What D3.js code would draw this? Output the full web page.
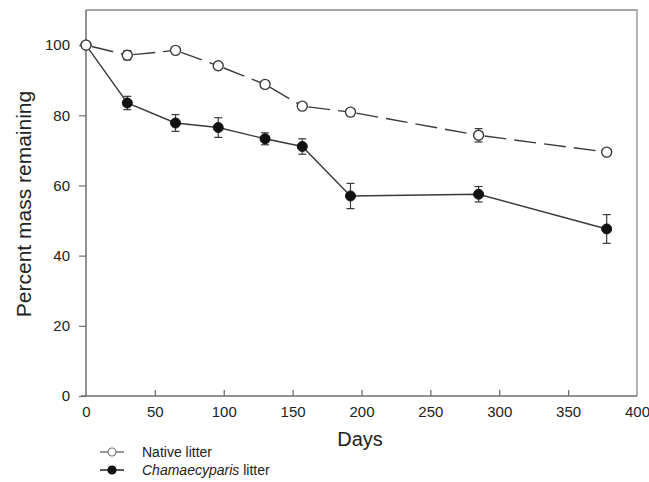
<!DOCTYPE html>
<html>
<head>
<meta charset="utf-8">
<script src="https://cdn.jsdelivr.net/npm/d3@7"></script>
<style>
  body { margin: 0; background: #fff; }
  svg { display: block; font-family: "Liberation Sans", Arial, sans-serif; }
</style>
</head>
<body>
<svg id="chart" width="649" height="482"></svg>
<script>
// data
const days = [0, 30, 65, 96, 130, 157, 192, 285, 378];
const nativeMass = [100, 97.1, 98.5, 94.1, 88.8, 82.6, 80.9, 74.3, 69.5];
const nativeErr = [0, 1.3, 0.5, 0.8, 0.6, 0.5, 0.8, 1.9, 0.5];
const chamMass = [100, 83.5, 77.8, 76.5, 73.3, 71.1, 57.0, 57.5, 47.6];
const chamErr = [0, 1.9, 2.4, 2.8, 1.7, 2.2, 3.6, 2.2, 4.1];
const xTicks = [0, 50, 100, 150, 200, 250, 300, 350, 400];
const yTicks = [0, 20, 40, 60, 80, 100];

const lineColor = '#3a3a3a';
const axisColor = '#6e6e6e';

const svg = d3.select('#chart');
const x = d3.scaleLinear().domain([0, 400]).range([86, 637]);
const y = d3.scaleLinear().domain([0, 110]).range([396, 10]);

// frame (top / right)
svg.append('path')
    .attr('d', `M${x(0)},${y(110)} H${x(400)} V${y(0)}`)
    .attr('fill', 'none').attr('stroke', '#8a8a8a').attr('stroke-width', 1.3);

// x axis, ticks pointing inward
const xAxis = svg.append('g').attr('transform', `translate(0,${y(0)})`)
    .call(d3.axisBottom(x).tickValues(xTicks).tickSize(0).tickPadding(10));
xAxis.select('.domain').remove();
xAxis.append('line').attr('x1', 81).attr('x2', x(400))
    .attr('stroke', axisColor).attr('stroke-width', 1.5);
xAxis.selectAll('.tick').filter(d => d > 0 && d < 400).append('line')
    .attr('y2', -6).attr('stroke', axisColor).attr('stroke-width', 1.3);
xAxis.selectAll('.tick text').attr('font-size', 15).attr('fill', '#222')
    .attr('font-family', '"Liberation Sans", Arial, sans-serif');

// y axis, ticks pointing outward
const yAxis = svg.append('g').attr('transform', `translate(${x(0)},0)`)
    .call(d3.axisLeft(y).tickValues(yTicks).tickSize(7).tickPadding(9));
yAxis.select('.domain').remove();
yAxis.append('line').attr('y1', y(0)).attr('y2', y(110))
    .attr('stroke', axisColor).attr('stroke-width', 1.5);
yAxis.selectAll('.tick line').attr('stroke', axisColor).attr('stroke-width', 1.2);
yAxis.selectAll('.tick text').attr('font-size', 15).attr('fill', '#222')
    .attr('font-family', '"Liberation Sans", Arial, sans-serif');

// axis titles
svg.append('text').attr('x', 360).attr('y', 446)
    .attr('text-anchor', 'middle').attr('font-size', 20).attr('fill', '#222')
    .text('Days');
svg.append('text')
    .attr('transform', 'translate(31,204) rotate(-90)')
    .attr('text-anchor', 'middle').attr('font-size', 21).attr('fill', '#222')
    .text('Percent mass remaining');

const nativeData = days.map((d, i) => ({ d, v: nativeMass[i], e: nativeErr[i] }));
const chamData = days.map((d, i) => ({ d, v: chamMass[i], e: chamErr[i] }));

const line = d3.line().x(p => x(p.d)).y(p => y(p.v));

// native: dashed, pattern restarts at each point
const segs = d3.pairs(nativeData);
svg.append('g').selectAll('path').data(segs).join('path')
    .attr('d', line)
    .attr('fill', 'none').attr('stroke', lineColor).attr('stroke-width', 1.4)
    .attr('stroke-dasharray', '22,8')
    .attr('stroke-dashoffset', -6);

// chamaecyparis: solid
svg.append('path').datum(chamData)
    .attr('d', line)
    .attr('fill', 'none').attr('stroke', lineColor).attr('stroke-width', 1.4);

function errorBars(data) {
    const g = svg.append('g').selectAll('g').data(data.filter(p => p.e > 0)).join('g')
        .attr('stroke', lineColor).attr('stroke-width', 1.2);
    g.append('line').attr('x1', p => x(p.d)).attr('x2', p => x(p.d))
        .attr('y1', p => y(p.v - p.e)).attr('y2', p => y(p.v + p.e));
    g.append('line').attr('x1', p => x(p.d) - 4).attr('x2', p => x(p.d) + 4)
        .attr('y1', p => y(p.v + p.e)).attr('y2', p => y(p.v + p.e));
    g.append('line').attr('x1', p => x(p.d) - 4).attr('x2', p => x(p.d) + 4)
        .attr('y1', p => y(p.v - p.e)).attr('y2', p => y(p.v - p.e));
}
errorBars(chamData);
errorBars(nativeData);

svg.append('g').selectAll('circle').data(chamData).join('circle')
    .attr('cx', p => x(p.d)).attr('cy', p => y(p.v)).attr('r', 5)
    .attr('fill', '#111').attr('stroke', '#111');
svg.append('g').selectAll('circle').data(nativeData).join('circle')
    .attr('cx', p => x(p.d)).attr('cy', p => y(p.v)).attr('r', 5)
    .attr('fill', '#fff').attr('stroke', lineColor).attr('stroke-width', 1.4);

// legend
const legend = svg.append('g');
const legendRows = [
    { label: 'Native litter', filled: false, yy: 452 },
    { label: 'Chamaecyparis', italic: true, rest: ' litter', filled: true, yy: 470 }
];
const row = legend.selectAll('g').data(legendRows).join('g')
    .attr('transform', r => `translate(0,${r.yy})`);
row.append('line').attr('x1', 100).attr('x2', 124)
    .attr('stroke', r => r.filled ? '#222' : '#777').attr('stroke-width', 1.5);
row.append('circle').attr('cx', 112).attr('r', 4)
    .attr('fill', r => r.filled ? '#111' : '#fff')
    .attr('stroke', r => r.filled ? '#111' : '#777').attr('stroke-width', 1.2);
const lt = row.append('text').attr('x', 142).attr('y', 5)
    .attr('font-size', 14).attr('fill', '#222');
lt.append('tspan').attr('font-style', r => r.italic ? 'italic' : 'normal').text(r => r.label);
lt.filter(r => r.rest).append('tspan').text(r => r.rest);
</script>
</body>
</html>
